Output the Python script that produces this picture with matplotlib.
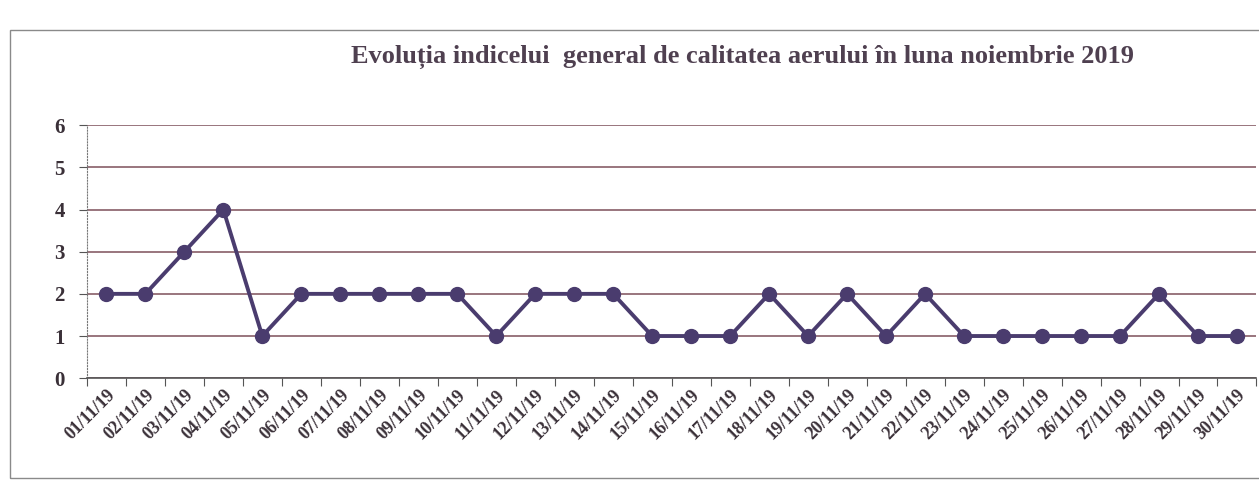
import matplotlib
matplotlib.use("Agg")
import matplotlib.pyplot as plt
from matplotlib.patches import Rectangle

####################################################### Data
days = ["%02d/11/19" % d for d in range(1, 31)]
index_values = [2, 2, 3, 4, 1, 2, 2, 2, 2, 2,
                1, 2, 2, 2, 1, 1, 1, 2, 1, 2,
                1, 2, 1, 1, 1, 1, 1, 2, 1, 1]
y_ticks = [0, 1, 2, 3, 4, 5, 6]
title = "Evoluția indicelui  general de calitatea aerului în luna noiembrie 2019"

####################################################### Style
plt.rcParams['font.family'] = ['Liberation Serif', 'DejaVu Serif']
line_col = '#4a3c6e'
grid_col = '#7d4f5a'
text_col = '#3a3038'

fig = plt.figure(figsize=(12.59, 4.95), dpi=100)
fig.patches.append(Rectangle((0.008, 0.035), 0.995, 0.905, transform=fig.transFigure,
                             fill=False, edgecolor='#8a8a8a', linewidth=1.0))

ax = fig.add_axes([0.069, 0.236, 0.929, 0.511])
x = list(range(len(days)))
ax.plot(x, index_values, '-', color=line_col, linewidth=2.8,
        marker='o', markersize=10, markerfacecolor=line_col, markeredgecolor=line_col)

ax.set_xlim(-0.5, len(days) - 0.5)
ax.set_ylim(0, 6)
ax.set_yticks(y_ticks)
ax.yaxis.grid(True, color=grid_col, linewidth=1.1)
ax.set_axisbelow(True)

# ticks between categories like Excel
ax.set_xticks([i - 0.5 for i in range(len(days) + 1)], minor=False)
ax.set_xticklabels([])
ax.set_xticks(x, minor=True)
ax.set_xticklabels(days, minor=True, rotation=45, ha='right', rotation_mode='anchor',
                   fontsize=13, fontweight='bold', color=text_col)
ax.tick_params(axis='x', which='minor', length=0, pad=6)
ax.tick_params(axis='x', which='major', length=6, color='#555555', direction='out')
ax.tick_params(axis='y', length=6, color='#555555', pad=10)
for lbl in ax.get_yticklabels():
    lbl.set_fontsize(15)
    lbl.set_fontweight('bold')
    lbl.set_color(text_col)

for s in ['top', 'right']:
    ax.spines[s].set_visible(False)
ax.spines['left'].set_color('#777777')
ax.spines['left'].set_linestyle(':')
ax.spines['bottom'].set_color('#555555')
ax.spines['bottom'].set_linewidth(1.2)

fig.text(0.59, 0.885, title, ha='center', va='center', fontsize=19,
         fontweight='bold', color='#4f4050')

fig.savefig('out.png', dpi=100)
